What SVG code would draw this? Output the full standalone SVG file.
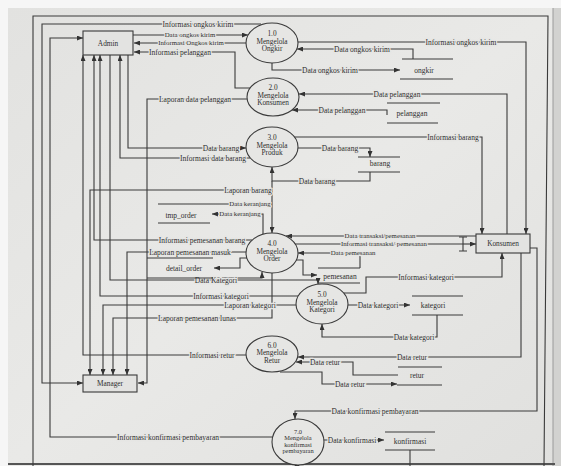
<svg xmlns="http://www.w3.org/2000/svg" width="561" height="466" viewBox="0 0 561 466">
  <defs>
    <marker id="arr" markerUnits="userSpaceOnUse" markerWidth="6" markerHeight="5" refX="6" refY="2.5" orient="auto">
      <path d="M0,0 L6,2.5 L0,5 z" fill="#333"/>
    </marker>
    <linearGradient id="paper" x1="0" y1="0" x2="1" y2="1">
      <stop offset="0" stop-color="#e2e2e0"/>
      <stop offset="0.5" stop-color="#e9e9e7"/>
      <stop offset="1" stop-color="#e0e0de"/>
    </linearGradient>
  </defs>
  <style>
    .ln { fill: none; stroke: #3a3a3a; stroke-width: 1.1; }
    .ar { marker-end: url(#arr); }
    .st { fill: none; stroke: #3a3a3a; stroke-width: 1.1; }
    .box { fill: #e3e3e1; stroke: #3a3a3a; stroke-width: 1.1; }
    .proc { fill: #e6e6e4; stroke: #3a3a3a; stroke-width: 1.1; }
    text { font-family: "Liberation Serif", "DejaVu Serif", serif; fill: #2e2e2e; }
    .lb { font-size: 7.5px; text-anchor: middle; paint-order: stroke; stroke: #e6e6e4; stroke-width: 2.4px; stroke-linejoin: round; }
    .sm { font-size: 6.8px; }
    .pt { font-size: 7.3px; text-anchor: middle; }
    .p7 { font-size: 6.4px; text-anchor: middle; }
    .ds { font-size: 7.5px; text-anchor: middle; }
  </style>

  <!-- sheet -->
  <rect x="0" y="0" width="561" height="466" fill="#f6f6f6"/>
  <rect x="8" y="8" width="547" height="458" fill="url(#paper)"/>
  <rect x="553" y="8" width="8" height="458" fill="#d2d2d0"/>
  <line x1="553" y1="8" x2="553" y2="466" stroke="#9a9a9a" stroke-width="1"/>
  <line x1="8" y1="464" x2="555" y2="464" stroke="#555" stroke-width="2"/>

  <!-- connectors -->
  <g id="connectors">
    <path class="ln" d="M33,466 V16 H548 L544,466"/>
    <path class="ln ar" d="M261,24 H42 V383 H83"/>
    <path class="ln ar" d="M272,437 H50 V38 H83"/>
    <path class="ln ar" d="M133,35 H248"/>
    <path class="ln ar" d="M246,43 H134"/>
    <path class="ln ar" d="M250,88 H235 V52 H134"/>
    <path class="ln ar" d="M247,99 H147 V383 H138"/>
    <path class="ln ar" d="M298,42 H526 V234"/>
    <path class="ln ar" d="M413,59 V49 H297"/>
    <path class="ln ar" d="M272,63 V70 H400"/>
    <path class="ln ar" d="M507,234 V94 H299"/>
    <path class="ln ar" d="M387,115 V110 H292"/>
    <path class="ln ar" d="M295,137 H482 V234"/>
    <path class="ln ar" d="M298,148 H370 V157"/>
    <path class="ln ar" d="M370,172 V181 H272 V167"/>
    <path class="ln ar" d="M272,181 V233"/>
    <path class="ln ar" d="M272,190 H90 V375"/>
    <path class="ln" d="M210,204 H272"/>
    <path class="ln ar" d="M263,234 V214 H212"/>
    <path class="ln ar" d="M128,55 V148 H246"/>
    <path class="ln ar" d="M250,158 H120 V55"/>
    <path class="ln ar" d="M252,240 H94 V55"/>
    <path class="ln ar" d="M247,252 H127 V375"/>
    <path class="ln ar" d="M247,258 H240 V268 H214"/>
    <path class="ln ar" d="M213,278 H262 V272"/>
    <path class="ln ar" d="M110,55 V280 H318 V284"/>
    <path class="ln ar" d="M298,296 H100 V55"/>
    <path class="ln ar" d="M296,305 H103 V375"/>
    <path class="ln ar" d="M272,273 V318 H113 V375"/>
    <path class="ln ar" d="M246,355 H83 V55"/>
    <path class="ln ar" d="M476,236 H286"/>
    <path class="ln" d="M294,244 H463"/>
    <path class="ln" d="M463,237 V251 M459,237 H467 M459,251 H467"/>
    <path class="ln ar" d="M463,244 H476"/>
    <path class="ln ar" d="M360,268 V253 H298"/>
    <path class="ln ar" d="M296,260 H303 V275 H317"/>
    <path class="ln ar" d="M344,293 H366 V277 H502 V253"/>
    <path class="ln ar" d="M348,305 H410"/>
    <path class="ln ar" d="M437,315 V337 H322 V324"/>
    <path class="ln ar" d="M521,253 V357 H298"/>
    <path class="ln ar" d="M398,375 H353 V362 H296"/>
    <path class="ln ar" d="M280,372 H322 V384 H397"/>
    <path class="ln ar" d="M530,248 H537 V411 H295 V419"/>
    <path class="ln ar" d="M324,440 H384"/>
    <path class="ln" d="M410,450 V466"/>
    <path d="M294.5,466 L297,460 L299.5,466 z" fill="#333"/>

    <!-- flow labels -->
    <text class="lb" x="198" y="26.5">Informasi ongkos kirim</text>
    <text class="lb sm" x="190" y="37.3">Data ongkos kirim</text>
    <text class="lb sm" x="191" y="45.3">Informasi Ongkos kirim</text>
    <text class="lb" x="180" y="54.5">Informasi pelanggan</text>
    <text class="lb" x="195" y="101.5">Laporan data pelanggan</text>
    <text class="lb" x="461" y="44.5">Informasi ongkos kirim</text>
    <text class="lb" x="362" y="51.5">Data ongkos kirim</text>
    <text class="lb" x="330" y="72.5">Data ongkos kirim</text>
    <text class="lb" x="397" y="96.5">Data pelanggan</text>
    <text class="lb" x="342" y="112.5">Data pelanggan</text>
    <text class="lb" x="453" y="139.5">Informasi barang</text>
    <text class="lb" x="340" y="150.5">Data barang</text>
    <text class="lb" x="317" y="183.5">Data barang</text>
    <text class="lb" x="221" y="150.5">Data barang</text>
    <text class="lb" x="213" y="160.5">Informasi data barang</text>
    <text class="lb" x="248" y="192.5">Laporan barang</text>
    <text class="lb sm" x="250" y="206.3">Data keranjang</text>
    <text class="lb sm" x="240" y="216.3">Data keranjang</text>
    <text class="lb" x="202" y="242.5">Informasi pemesanan barang</text>
    <text class="lb" x="190" y="254.5">Laporan pemesanan masuk</text>
    <text class="lb" x="216" y="282.5">Data Kategori</text>
    <text class="lb" x="221" y="298.5">Informasi kategori</text>
    <text class="lb" x="250" y="307.5">Laporan kategori</text>
    <text class="lb" x="197" y="320.5">Laporan pemesanan lunas</text>
    <text class="lb" x="212" y="357.5">Informasi retur</text>
    <text class="lb" x="168" y="439.5">Informasi konfirmasi pembayaran</text>
    <text class="lb sm" x="380" y="238.3">Data transaksi/pemesanan</text>
    <text class="lb sm" x="384" y="246.3">Informasi transaksi/ pemesanan</text>
    <text class="lb sm" x="353" y="255.3">Data pemesanan</text>
    <text class="lb" x="426" y="279.5">Informasi kategori</text>
    <text class="lb" x="378" y="307.5">Data kategori</text>
    <text class="lb" x="414" y="339.5">Data kategori</text>
    <text class="lb" x="412" y="359.5">Data retur</text>
    <text class="lb" x="325" y="364.5">Data retur</text>
    <text class="lb" x="350" y="386.5">Data retur</text>
    <text class="lb" x="375" y="413.5">Data konfirmasi pembayaran</text>
    <text class="lb" x="352" y="442.5">Data konfirmasi</text>
  </g>

  <!-- external entities -->
  <g id="admin">
    <rect class="box" x="83" y="31" width="50" height="24"/>
    <text class="pt" x="108" y="45.5">Admin</text>
  </g>
  <g id="manager">
    <rect class="box" x="83" y="375" width="54" height="17"/>
    <text class="pt" x="110" y="386">Manager</text>
  </g>
  <g id="konsumen">
    <rect class="box" x="476" y="234" width="54" height="19"/>
    <text class="pt" x="503" y="246">Konsumen</text>
  </g>

  <!-- processes -->
  <g id="p1">
    <ellipse class="proc" cx="272" cy="43" rx="26" ry="20"/>
    <text class="pt" x="272" y="36">1.0</text>
    <text class="pt" x="272" y="43.7">Mengelola</text>
    <text class="pt" x="272" y="51.2">Ongkir</text>
  </g>
  <g id="p2">
    <ellipse class="proc" cx="273" cy="97" rx="26" ry="19"/>
    <text class="pt" x="273" y="90">2.0</text>
    <text class="pt" x="273" y="97.7">Mengelola</text>
    <text class="pt" x="273" y="105.2">Konsumen</text>
  </g>
  <g id="p3">
    <ellipse class="proc" cx="272" cy="147" rx="26" ry="20"/>
    <text class="pt" x="272" y="140">3.0</text>
    <text class="pt" x="272" y="147.7">Mengelola</text>
    <text class="pt" x="272" y="155.2">Produk</text>
  </g>
  <g id="p4">
    <ellipse class="proc" cx="272" cy="253" rx="26" ry="20"/>
    <text class="pt" x="272" y="246">4.0</text>
    <text class="pt" x="272" y="253.7">Mengelola</text>
    <text class="pt" x="272" y="261.2">Order</text>
  </g>
  <g id="p5">
    <ellipse class="proc" cx="322" cy="304" rx="26" ry="20"/>
    <text class="pt" x="322" y="297">5.0</text>
    <text class="pt" x="322" y="304.7">Mengelola</text>
    <text class="pt" x="322" y="312.2">Kategori</text>
  </g>
  <g id="p6">
    <ellipse class="proc" cx="272" cy="354" rx="26" ry="18"/>
    <text class="pt" x="272" y="347.5">6.0</text>
    <text class="pt" x="272" y="355">Mengelola</text>
    <text class="pt" x="272" y="362.5">Retur</text>
  </g>
  <g id="p7">
    <ellipse class="proc" cx="298" cy="442" rx="26" ry="23"/>
    <text class="p7" x="298" y="433.5">7.0</text>
    <text class="p7" x="298" y="440">Mengelola</text>
    <text class="p7" x="298" y="446.5">konfirmasi</text>
    <text class="p7" x="298" y="453">pembayaran</text>
  </g>

  <!-- data stores -->
  <g id="ds-ongkir">
    <path class="st" d="M402,59 H453 M400,79 H453"/>
    <text class="ds" x="424" y="72.5">ongkir</text>
  </g>
  <g id="ds-pelanggan">
    <path class="st" d="M387,103 H440 M387,123 H438"/>
    <text class="ds" x="412" y="115.5">pelanggan</text>
  </g>
  <g id="ds-barang">
    <path class="st" d="M358,157 H400 M358,172 H400"/>
    <text class="ds" x="380" y="166">barang</text>
  </g>
  <g id="ds-tmp-order">
    <path class="st" d="M158,204 H210 M158,223 H210"/>
    <text class="ds" x="181" y="217.5">tmp_order</text>
  </g>
  <g id="ds-detail-order">
    <path class="st" d="M147,258 H213 M147,278 H213"/>
    <text class="ds" x="184" y="270.5">detail_order</text>
  </g>
  <g id="ds-pemesanan">
    <path class="st" d="M318,268 H360 M318,283 H360"/>
    <text class="ds" x="340" y="279">pemesanan</text>
  </g>
  <g id="ds-kategori">
    <path class="st" d="M412,296 H463 M412,315 H463"/>
    <text class="ds" x="433" y="307.5">kategori</text>
  </g>
  <g id="ds-retur">
    <path class="st" d="M398,367 H442 M397,385 H442"/>
    <text class="ds" x="417" y="377.5">retur</text>
  </g>
  <g id="ds-konfirmasi">
    <path class="st" d="M385,432 H435 M385,450 H435"/>
    <text class="ds" x="410" y="443.5">konfirmasi</text>
  </g>
</svg>
